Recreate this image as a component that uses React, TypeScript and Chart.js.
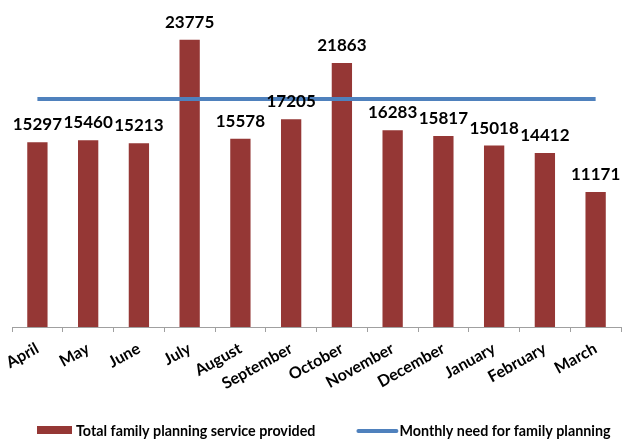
import React, { useEffect, useRef } from "react";
import { Chart, registerables } from "chart.js";

Chart.register(...registerables);

const months = [
  "April", "May", "June", "July", "August", "September",
  "October", "November", "December", "January", "February", "March",
];
const serviceProvided = [15297, 15460, 15213, 23775, 15578, 17205, 21863, 16283, 15817, 15018, 14412, 11171];
const monthlyNeed = [18880, 18880, 18880, 18880, 18880, 18880, 18880, 18880, 18880, 18880, 18880, 18880];
const seriesNames = ["Total family planning service provided", "Monthly need for family planning"];

const BAR_COLOR = "#953735";
const LINE_COLOR = "#4F81BD";
const AXIS_COLOR = "#A0A0A0";
const FONT = "Lato, 'Open Sans', sans-serif";

const valueLabels = {
  id: "valueLabels",
  afterDatasetsDraw(chart: any) {
    const meta = chart.getDatasetMeta(0);
    const ctx = chart.ctx;
    ctx.save();
    ctx.font = `bold 17px ${FONT}`;
    ctx.fillStyle = "#000";
    ctx.textAlign = "center";
    ctx.textBaseline = "alphabetic";
    meta.data.forEach((el: any, i: number) => {
      ctx.fillText(String(chart.data.datasets[0].data[i]), el.x, el.y - 12);
    });
    ctx.restore();
  },
};

const customLegend = {
  id: "customLegend",
  afterDraw(chart: any) {
    const ctx = chart.ctx;
    const ds = chart.data.datasets;
    ctx.save();
    ctx.font = `bold 14.3px ${FONT}`;
    ctx.fillStyle = "#000";
    ctx.textBaseline = "alphabetic";
    ctx.textAlign = "left";
    const baseY = 436;
    const midY = 430;
    let x = 37;
    // bar item
    ctx.fillStyle = ds[0].backgroundColor;
    ctx.fillRect(x, midY - 4, 35, 8);
    x += 35 + 4;
    ctx.fillStyle = "#000";
    ctx.fillText(ds[0].label, x, baseY);
    x += ctx.measureText(ds[0].label).width + 43;
    // line item
    ctx.strokeStyle = ds[1].borderColor;
    ctx.lineWidth = 4;
    ctx.lineCap = "round";
    ctx.beginPath();
    ctx.moveTo(x, midY + 1);
    ctx.lineTo(x + 38, midY + 1);
    ctx.stroke();
    x += 38 + 3;
    ctx.fillText(ds[1].label, x, baseY);
    ctx.restore();
  },
};

export default function App() {
  const ref = useRef<HTMLCanvasElement | null>(null);
  useEffect(() => {
    if (!ref.current) return;
    const chart = new Chart(ref.current, {
      type: "bar",
      data: {
        labels: months,
        datasets: [
          {
            type: "bar",
            label: seriesNames[0],
            data: serviceProvided,
            backgroundColor: BAR_COLOR,
            borderWidth: 0,
            categoryPercentage: 1,
            barPercentage: 0.4,
            order: 1,
          },
          {
            type: "line",
            label: seriesNames[1],
            data: monthlyNeed,
            borderColor: LINE_COLOR,
            backgroundColor: LINE_COLOR,
            borderWidth: 4,
            pointRadius: 0,
            fill: false,
            order: 0,
          } as any,
        ],
      },
      options: {
        animation: false,
        responsive: false,
        layout: { padding: { top: 25, left: 12, right: 2, bottom: 0 } },
        plugins: {
          legend: { display: false },
          tooltip: { enabled: false },
        },
        scales: {
          y: {
            display: false,
            min: 0,
            max: 25000,
          },
          x: {
            afterFit(scale: any) {
              scale.height = 113;
            },
            grid: {
              display: true,
              drawOnChartArea: false,
              drawTicks: true,
              tickLength: 5,
              color: AXIS_COLOR,
              offset: true,
            },
            border: { display: true, color: AXIS_COLOR, width: 1 },
            ticks: {
              autoSkip: false,
              minRotation: 29,
              maxRotation: 29,
              padding: 7,
              color: "#000",
              font: { family: FONT, size: 16, weight: "bold" },
            },
          },
        },
      },
      plugins: [valueLabels, customLegend],
    });
    return () => chart.destroy();
  }, []);
  return (
    <div style={{ position: "fixed", left: 0, top: 0, width: 623, height: 440, background: "#fff" }}>
      <canvas ref={ref} width={623} height={440} />
    </div>
  );
}
